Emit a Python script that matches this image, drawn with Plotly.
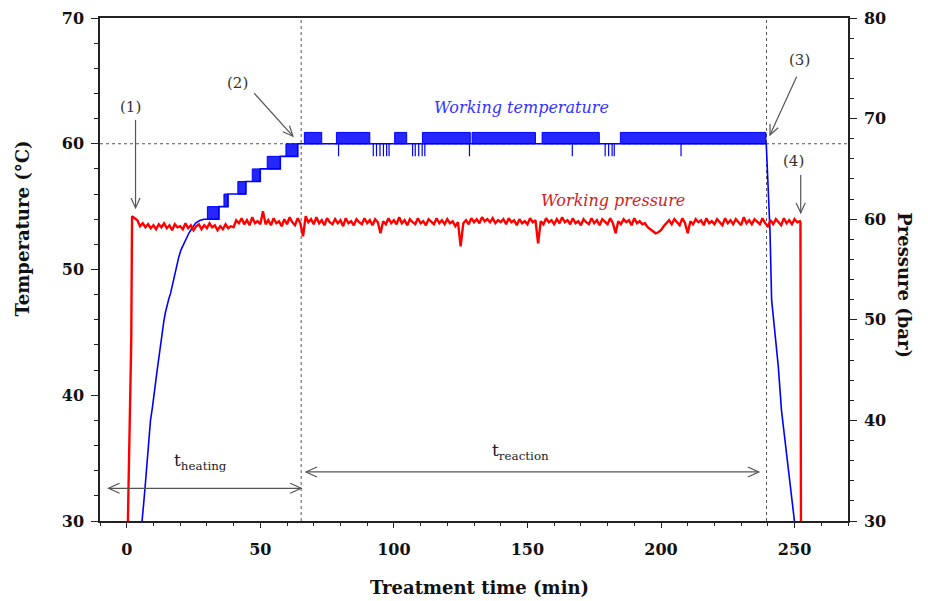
import math
import plotly.graph_objects as go

# ---------------- data ----------------
# Temperature (°C) – main trace
temp_time = [5.3, 5.8, 6.4, 7.0, 7.5, 8.0, 8.5, 8.9, 9.6, 10.3, 10.8, 11.4, 12.0, 12.7, 13.3,
             13.9, 14.5, 15.1, 15.8, 16.4, 17.3, 18.3, 19.5, 20.4, 21.4, 22.3, 23.3, 24.5,
             25.8, 27.3, 28.9, 34.5, 34.5, 37.9, 37.9, 44.6, 44.6, 50.0, 50.0, 57.5, 57.5,
             64.0, 64.0, 239.4, 239.6, 240.1, 240.8, 241.4, 242.6, 243.9, 245.1, 246.4,
             247.6, 248.9, 250.1, 250.5]
temp_value = [29.0, 30.0, 31.5, 33.0, 34.5, 35.8, 37.0, 38.0, 39.0, 40.0, 41.0, 42.0, 43.0, 44.0,
              45.0, 45.9, 46.6, 47.2, 47.7, 48.1, 49.0, 50.0, 51.0, 51.6, 52.1, 52.5, 52.9, 53.3,
              53.7, 53.9, 54.0, 54.0, 55.0, 55.0, 56.0, 56.0, 57.0, 57.0, 58.0, 58.0, 59.0,
              59.0, 60.0, 60.0, 59.0, 57.9, 53.1, 47.6, 44.9, 42.3, 38.8, 36.4, 34.1, 32.2,
              30.0, 29.0]

# Temperature flicker bands (signal toggling between two readings)
band_start = [30.2, 36.4, 41.6, 47.0, 52.6, 59.6, 66.5, 78.5, 100.3, 110.7, 129.3, 155.5, 184.8]
band_end = [34.5, 37.9, 44.6, 50.0, 57.5, 64.0, 73.0, 91.0, 104.8, 128.6, 153.0, 176.9, 239.3]
band_low = [54.0, 55.0, 56.0, 57.0, 58.0, 59.0, 60.0, 60.0, 60.0, 60.0, 60.0, 60.0, 60.0]
band_high = [55.0, 56.0, 57.0, 58.0, 59.0, 60.0, 60.9, 60.9, 60.9, 60.9, 60.9, 60.9, 60.9]

# Short temperature drops from 60 to 59 °C
dip_time = [79.3, 92.3, 93.5, 94.8, 96.1, 97.3, 98.2, 107.0, 108.0, 109.3, 110.6, 111.6,
            128.3, 166.8, 179.1, 180.4, 181.7, 182.5, 207.5]
dip_low = [59.0] * len(dip_time)
dip_top = 60.0

# Pressure (bar)
pressure_time = [0.3, 1.5, 1.7,
                 2, 3, 4, 5, 6, 7, 8, 9, 10, 11,
                 12, 13, 14, 15, 16, 17, 18, 19, 20, 21,
                 22, 23, 24, 25, 26, 27, 28, 29, 30, 31,
                 32, 33, 34, 35, 36, 37, 38, 39, 40, 41,
                 42, 43, 44, 45, 46, 47, 48, 49, 50, 51,
                 52, 53, 54, 55, 56, 57, 58, 59, 60, 61,
                 62, 63, 64, 65, 66, 67, 68, 69, 70, 71,
                 72, 73, 74, 75, 76, 77, 78, 79, 80, 81,
                 82, 83, 84, 85, 86, 87, 88, 89, 90, 91,
                 92, 93, 94, 95, 96, 97, 98, 99, 100, 101,
                 102, 103, 104, 105, 106, 107, 108, 109, 110, 111,
                 112, 113, 114, 115, 116, 117, 118, 119, 120, 121,
                 122, 123, 124, 125, 126, 127, 128, 129, 130, 131,
                 132, 133, 134, 135, 136, 137, 138, 139, 140, 141,
                 142, 143, 144, 145, 146, 147, 148, 149, 150, 151,
                 152, 153, 154, 155, 156, 157, 158, 159, 160, 161,
                 162, 163, 164, 165, 166, 167, 168, 169, 170, 171,
                 172, 173, 174, 175, 176, 177, 178, 179, 180, 181,
                 182, 183, 184, 185, 186, 187, 188, 189, 190, 191,
                 192, 193, 194, 195, 196, 197, 198, 199, 200, 201,
                 202, 203, 204, 205, 206, 207, 208, 209, 210, 211,
                 212, 213, 214, 215, 216, 217, 218, 219, 220, 221,
                 222, 223, 224, 225, 226, 227, 228, 229, 230, 231,
                 232, 233, 234, 235, 236, 237, 238, 239, 240, 241,
                 242, 243, 244, 245, 246, 247, 248, 249, 250, 251,
                 252, 252.2, 252.4]
pressure_value = [28.0, 47.0, 48.0,
                  60.3, 60.1, 59.9, 59.3, 59.6, 59.2, 59.5, 59.1, 59.4, 59.0,
                  59.5, 59.2, 59.6, 59.1, 59.4, 58.9, 59.5, 59.2, 59.3, 59.0,
                  59.6, 59.1, 59.4, 58.9, 59.3, 59.5, 59.0, 59.4, 59.1, 59.6,
                  59.2, 59.4, 58.9, 59.3, 59.0, 59.5, 59.1, 59.3, 59.2, 59.9,
                  59.6, 60.1, 59.5, 59.9, 59.4, 60.2, 59.6, 59.8, 59.5, 60.8,
                  59.5, 59.9, 59.4, 60.1, 59.6, 59.8, 59.3, 60.0, 59.5, 60.2,
                  59.7, 59.4, 60.1, 59.6, 58.3, 60.3, 59.7, 60.0, 59.5, 60.2,
                  59.6, 59.9, 59.4, 60.1, 59.7, 59.5, 60.0, 59.6, 59.9, 59.3,
                  60.1, 59.6, 59.8, 59.4, 60.0, 59.7, 59.5, 60.1, 59.6, 59.9,
                  59.4, 60.0, 59.7, 58.6, 59.8, 59.5, 60.1, 59.6, 59.9, 59.5,
                  60.2, 59.6, 59.9, 59.4, 60.0, 59.7, 59.5, 60.1, 59.6, 59.8,
                  59.4, 60.0, 59.7, 59.5, 60.1, 59.6, 59.9, 59.5, 60.0, 59.6,
                  59.8, 59.3, 59.7, 57.3, 59.6, 59.9, 59.5, 60.1, 59.7, 60.0,
                  59.6, 60.2, 59.8, 60.0, 59.7, 60.1, 59.6, 59.9, 59.7, 60.0,
                  59.5, 60.1, 59.7, 59.9, 59.4, 60.0, 59.6, 59.8, 59.5, 60.1,
                  59.7, 59.9, 57.6, 59.8, 59.5, 60.1, 59.7, 59.9, 59.5, 60.0,
                  59.6, 60.2, 59.7, 59.9, 59.5, 60.1, 59.6, 59.8, 59.4, 60.0,
                  59.7, 59.5, 60.1, 59.6, 59.9, 59.4, 60.0, 59.7, 59.5, 60.1,
                  59.6, 58.6, 59.8, 59.5, 60.0, 59.7, 59.9, 59.4, 60.1, 59.6,
                  59.8, 59.5, 59.6, 59.2, 59.0, 58.8, 58.6, 58.7, 58.9, 59.3,
                  59.6, 59.9, 59.5, 60.0, 59.7, 59.4, 60.1, 59.6, 58.6, 59.8,
                  59.5, 60.0, 59.7, 59.9, 59.4, 60.1, 59.6, 59.8, 59.5, 60.0,
                  59.7, 59.4, 60.1, 59.6, 59.9, 59.5, 60.0, 59.7, 59.4, 60.2,
                  59.6, 59.9, 59.5, 60.0, 59.7, 59.5, 60.1, 59.6, 59.3, 59.9,
                  59.5, 60.0, 59.7, 59.4, 60.1, 59.6, 59.9, 59.5, 60.0, 59.7,
                  59.8, 59.7, 28.0]

# Phase markers
heating_end = 65.3
reaction_end = 239.5
setpoint_temp = 60.0
x_ticks = [0, 50, 100, 150, 200, 250]
temp_ticks = [30, 40, 50, 60, 70]
pressure_ticks = [30, 40, 50, 60, 70, 80]

# ---------------- styling ----------------
SERIF = "DejaVu Serif"
AXC = "#222222"
ARC = "#555555"
BLUE = "#0000ff"
RED = "#ff0000"

fig = go.Figure()

# pressure (right axis)
fig.add_trace(go.Scatter(x=pressure_time, y=pressure_value, mode="lines",
                         line=dict(color=RED, width=2.4), yaxis="y2",
                         hoverinfo="skip", showlegend=False))

# temperature flicker bands
bx, by = [], []
for s, e, lo, hi in zip(band_start, band_end, band_low, band_high):
    bx += [s, s, e, e, s, None]
    by += [lo, hi, hi, lo, lo, None]
fig.add_trace(go.Scatter(x=bx, y=by, mode="lines", fill="toself",
                         fillcolor="rgba(0,0,255,0.85)",
                         line=dict(color=BLUE, width=1), hoverinfo="skip", showlegend=False))

# temperature dips
dx_, dy_ = [], []
for t, lo in zip(dip_time, dip_low):
    dx_ += [t, t, None]
    dy_ += [dip_top, lo, None]
fig.add_trace(go.Scatter(x=dx_, y=dy_, mode="lines", line=dict(color=BLUE, width=1.2),
                         hoverinfo="skip", showlegend=False))

# temperature main line
fig.add_trace(go.Scatter(x=temp_time, y=temp_value, mode="lines",
                         line=dict(color=BLUE, width=1.6),
                         hoverinfo="skip", showlegend=False))

shapes = []
# dashed guide lines
shapes.append(dict(type="line", xref="paper", x0=0, x1=1, yref="y", y0=setpoint_temp, y1=setpoint_temp,
                   line=dict(color=ARC, width=1, dash="3px,3px"), layer="below"))
for xv in (heating_end, reaction_end):
    shapes.append(dict(type="line", xref="x", x0=xv, x1=xv, yref="paper", y0=0, y1=1,
                       line=dict(color=ARC, width=1, dash="3px,3px"), layer="below"))


def chevron(tip_x, tip_y, ux, uy, head=10, half=5, yref="y"):
    """open arrow head at tip; (ux,uy) unit vector pointing from tip back along shaft (screen px, y down)"""
    px, py = -uy, ux
    c1 = (ux * head + px * half, uy * head + py * half)
    c2 = (ux * head - px * half, uy * head - py * half)
    path = f"M {c1[0]:.2f},{-c1[1]:.2f} L 0,0 L {c2[0]:.2f},{-c2[1]:.2f}"
    return dict(type="path", xref="x", yref=yref, xsizemode="pixel", ysizemode="pixel",
                xanchor=tip_x, yanchor=tip_y, path=path, line=dict(color=ARC, width=1.2))


def pointer(tip_x, tip_y, dx, dy, head=10, half=4.5):
    """shaft from tail (offset dx,dy screen px from tip) to tip with open head"""
    L = math.hypot(dx, dy)
    ux, uy = dx / L, dy / L
    shapes.append(dict(type="path", xref="x", yref="y", xsizemode="pixel", ysizemode="pixel",
                       xanchor=tip_x, yanchor=tip_y, path=f"M {dx:.2f},{-dy:.2f} L 0,0",
                       line=dict(color=ARC, width=1.2)))
    shapes.append(chevron(tip_x, tip_y, ux, uy, head, half))


pointer(3.3, 54.9, 0, -88)
pointer(62.2, 60.6, -38.7, -43)
pointer(240.8, 60.7, 26.6, -58.3)
pointer(252.3, 54.5, 0, -38)

# double arrows for phases
h_y, r_y = 32.6, 33.9
shapes.append(dict(type="line", xref="x", yref="y", x0=-6.8, x1=heating_end, y0=h_y, y1=h_y,
                   line=dict(color=ARC, width=1.2)))
shapes.append(chevron(-6.8, h_y, 1, 0, 11, 5))
shapes.append(chevron(heating_end, h_y, -1, 0, 11, 5))
shapes.append(dict(type="line", xref="x", yref="y", x0=67.1, x1=236.6, y0=r_y, y1=r_y,
                   line=dict(color=ARC, width=1.2)))
shapes.append(chevron(67.1, r_y, 1, 0, 11, 5))
shapes.append(chevron(236.6, r_y, -1, 0, 11, 5))

ann = []
lab_font = dict(family=SERIF, size=15, color="#333333")
for txt, xv, yv in [("(1)", 1.4, 62.9), ("(2)", 41.5, 64.8), ("(3)", 252.0, 66.7), ("(4)", 249.5, 58.6)]:
    ann.append(dict(text=txt, x=xv, y=yv, xref="x", yref="y", showarrow=False, font=lab_font))

ann.append(dict(text="<i>Working temperature</i>", x=147.6, y=62.9, xref="x", yref="y",
                showarrow=False, font=dict(family=SERIF, size=16, color="#3333ff")))
ann.append(dict(text="<i>Working pressure</i>", x=182.1, y=61.9, xref="x", yref="y2",
                showarrow=False, font=dict(family=SERIF, size=16, color="#d42020")))
ann.append(dict(text="t<sub>heating</sub>", x=27.8, y=34.7, xref="x", yref="y",
                showarrow=False, font=dict(family=SERIF, size=17, color="#222222")))
ann.append(dict(text="t<sub>reaction</sub>", x=147.3, y=35.5, xref="x", yref="y",
                showarrow=False, font=dict(family=SERIF, size=17, color="#222222")))

title_font = dict(family=SERIF, size=18, color="#111111", weight="bold")
ann.append(dict(text="Treatment time (min)", xref="paper", yref="paper", x=0.508, y=-0.133,
                showarrow=False, font=title_font, xanchor="center", yanchor="middle"))
ann.append(dict(text="Temperature (°C)", xref="paper", yref="paper", x=-0.104, y=0.582,
                showarrow=False, font=title_font, textangle=-90, xanchor="center", yanchor="middle"))
ann.append(dict(text="Pressure (bar)", xref="paper", yref="paper", x=1.076, y=0.469,
                showarrow=False, font=title_font, textangle=90, xanchor="center", yanchor="middle"))

tick_font = dict(family=SERIF, size=16, color="#111111", weight="bold")
common = dict(showgrid=False, zeroline=False, showline=True, linecolor=AXC, linewidth=1.5,
              ticks="outside", tickcolor=AXC, tickwidth=1.3, tickfont=tick_font, automargin=False)

# page body has an 8 px margin: shrink the figure so the plot area lands where the reference has it
fig.update_layout(
    width=920, height=593,
    margin=dict(l=92, r=80, t=10, b=80, autoexpand=False),
    paper_bgcolor="white", plot_bgcolor="white",
    showlegend=False,
    shapes=shapes, annotations=ann,
    xaxis=dict(range=[-10, 270], tickvals=x_ticks, ticklen=5, mirror=True,
               minor=dict(dtick=10, tick0=0, ticks="outside", ticklen=3, tickcolor=AXC, tickwidth=1),
               ticklabelstandoff=8, **common),
    yaxis=dict(range=[30, 70], tickvals=temp_ticks, ticklen=7,
               minor=dict(dtick=2, tick0=30, ticks="outside", ticklen=4, tickcolor=AXC, tickwidth=1),
               ticklabelstandoff=4, **common),
    yaxis2=dict(range=[30, 80], tickvals=pressure_ticks, ticklen=7, overlaying="y", side="right",
                minor=dict(dtick=2, tick0=30, ticks="outside", ticklen=4, tickcolor=AXC, tickwidth=1),
                ticklabelstandoff=4, **common),
)

fig.write_html("out.html")
